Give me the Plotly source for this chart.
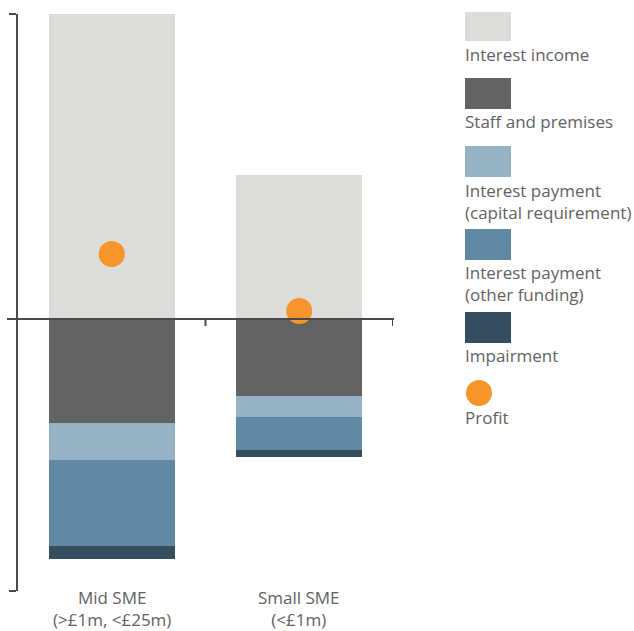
import plotly.graph_objects as go

# ---- data ----
categories = ["Mid SME", "Small SME"]
category_labels = ["Mid SME<br>(>£1m, <£25m)", "Small SME<br>(<£1m)"]
interest_income = [6.10, 2.88]
staff_premises = [-2.08, -1.54]
int_pay_capital = [-0.74, -0.42]
int_pay_other = [-1.72, -0.66]
impairment = [-0.26, -0.14]
profit = [1.30, 0.16]

series_names = ["Interest income", "Staff and premises",
                "Interest payment<br>(capital requirement)",
                "Interest payment<br>(other funding)", "Impairment"]
series_values = [interest_income, staff_premises, int_pay_capital, int_pay_other, impairment]
series_colors = ["#DCDCDA", "#636363", "#97B2C4", "#6189A3", "#354D5E"]
profit_color = "#F7952B"
axis_color = "#4A4A4A"
text_color = "#626262"
FONT = "Open Sans"
FS = 17

W, H = 634, 631
L, R, T, B = 18, 241, 14, 40
PW, PH = W - L - R, H - T - B

def px(x):
    return (x - L) / PW

def py(y):
    return (H - B - y) / PH

fig = go.Figure()
for name, vals, col in zip(series_names, series_values, series_colors):
    fig.add_trace(go.Bar(x=categories, y=vals, name=name, marker=dict(color=col, line=dict(width=0)),
                         width=0.672, showlegend=False))
fig.add_trace(go.Scatter(x=categories, y=profit, mode="markers", name="Profit",
                         marker=dict(color=profit_color, size=26, line=dict(width=0)), showlegend=False))

shapes = []
# zero line extending slightly left of the y axis
shapes.append(dict(type="line", xref="paper", yref="y", x0=px(7), x1=px(394), y0=0, y1=0,
                   line=dict(color=axis_color, width=2), layer="above"))
# category boundary ticks below zero line
for xb in [0.5, 1.5]:
    shapes.append(dict(type="line", xref="x", yref="y", ysizemode="pixel", yanchor=0,
                       x0=xb, x1=xb, y0=0, y1=-7, line=dict(color=axis_color, width=2), layer="above"))

annotations = []
for cat, lab in zip(categories, category_labels):
    annotations.append(dict(x=cat, xref="x", y=py(584), yref="paper", yanchor="top", xanchor="center",
                            text=lab, showarrow=False, font=dict(family=FONT, size=FS, color=text_color)))

# custom legend: swatch above label
legend_items = [
    (series_names[0], series_colors[0], 12, 41, 55),
    (series_names[1], series_colors[1], 78, 109, 121),
    (series_names[2], series_colors[2], 146, 177, 201),
    (series_names[3], series_colors[3], 229, 260, 283),
    (series_names[4], series_colors[4], 312, 343, 355),
]
for name, col, top, bot, tc in legend_items:
    shapes.append(dict(type="rect", xref="paper", yref="paper", x0=px(465), x1=px(511),
                       y0=py(bot), y1=py(top), fillcolor=col, line=dict(width=0)))
    annotations.append(dict(x=px(463), xref="paper", y=py(tc), yref="paper", xanchor="left",
                            yanchor="middle", align="left", text=name, showarrow=False,
                            font=dict(family=FONT, size=FS, color=text_color)))
shapes.append(dict(type="circle", xref="paper", yref="paper", x0=px(466), x1=px(492),
                   y0=py(406), y1=py(380), fillcolor=profit_color, line=dict(width=0)))
annotations.append(dict(x=px(463), xref="paper", y=py(417), yref="paper", xanchor="left",
                        yanchor="middle", align="left", text="Profit", showarrow=False,
                        font=dict(family=FONT, size=FS, color=text_color)))

fig.update_layout(
    width=W, height=H, margin=dict(l=L, r=R, t=T, b=B),
    paper_bgcolor="white", plot_bgcolor="white",
    barmode="relative", bargap=0,
    shapes=shapes, annotations=annotations,
    font=dict(family=FONT, color=text_color),
    xaxis=dict(type="category", range=[-0.5, 1.5], showticklabels=False, ticks="",
               showline=False, showgrid=False, zeroline=False, fixedrange=True),
    yaxis=dict(range=[-5.44, 6.1], showticklabels=False, showgrid=False, zeroline=False,
               showline=True, linecolor=axis_color, linewidth=2,
               ticks="outside", ticklen=7, tickwidth=2, tickcolor=axis_color,
               tickvals=[-5.44, 6.1], fixedrange=True),
)

fig.write_html("out.html")
